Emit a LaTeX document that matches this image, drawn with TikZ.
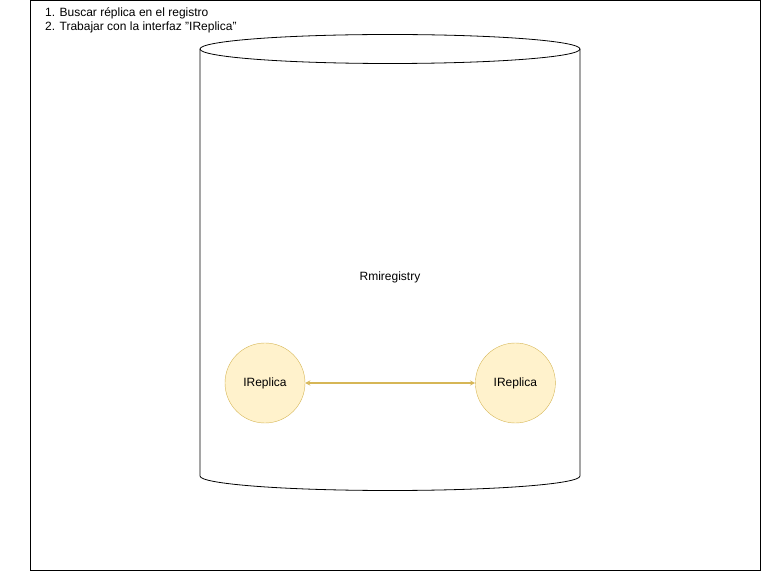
\documentclass[tikz,border=0pt]{standalone}
\usepackage{fontspec}
\setmainfont{Liberation Sans}
\usetikzlibrary{positioning}
\usetikzlibrary{calc}
\usetikzlibrary{arrows}
\definecolor{replicafill}{HTML}{FFF2CC}
\definecolor{replicaline}{HTML}{D6B656}

\begin{document}
\begin{tikzpicture}[x=1pt, y=1pt, font=\fontsize{12}{14}\selectfont,
        replica/.style={draw=replicaline, fill=replicafill, circle, minimum size=80pt, inner sep=0pt, text centered}]
        \useasboundingbox (0,0) rectangle (761,571);

        % frame %
        \draw[line width=1] (30,0.5) rectangle (760,570.5);
        \node[anchor=north west, align=left, inner sep=0pt] (steps) at (45,564) {1. Buscar réplica en el registro\\2. Trabajar con la interfaz \symbol{34}IReplica\symbol{34}};

        % registry %
        \coordinate (top) at (390,522);
        \coordinate (bot) at (390,95);
        \draw[line width=0.8] (top) ellipse [x radius=190, y radius=14.5];
        \draw[line width=0.8] ($(top)+(-190,0)$) -- ($(bot)+(-190,0)$)
              arc [start angle=180, end angle=360, x radius=190, y radius=14.5]
              -- ($(top)+(190,0)$);
        \node[text centered] (reg) at (390,294) {Rmiregistry};

        % nodes %
        \node[replica] (r1) at (265,188) {IReplica};
        \node[replica, right=170 of r1] (r2) {IReplica};

        % edges %
        \draw[<->, >=stealth, replicaline, line width=1.3] (r1) -- (r2);
      \end{tikzpicture}
\end{document}
